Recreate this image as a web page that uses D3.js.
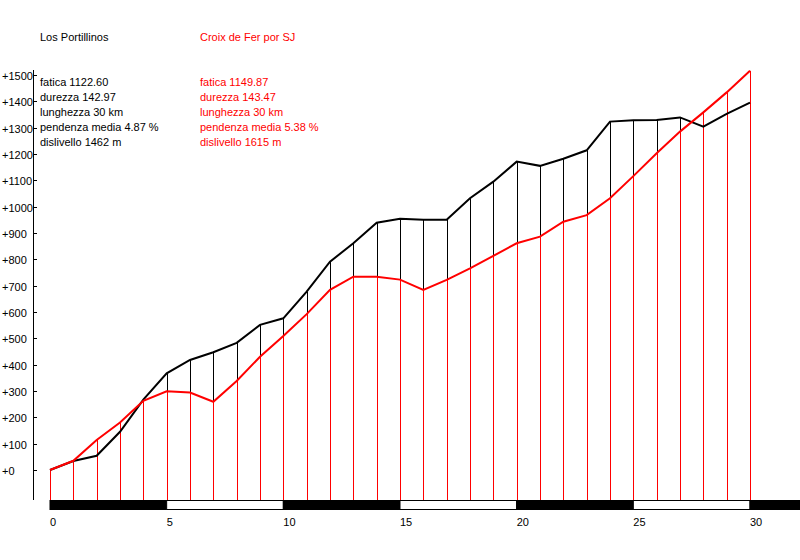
<!DOCTYPE html>
<html>
<head>
<meta charset="utf-8">
<script src="https://cdn.jsdelivr.net/npm/d3@7"></script>
<style>
  html, body { margin: 0; padding: 0; background: #fff; }
  svg { display: block; }
  text { font-family: "Liberation Sans", Arial, sans-serif; font-size: 11px; }
</style>
</head>
<body>
<svg id="chart" width="800" height="560"></svg>
<script>
// ---- data ----
const km = d3.range(0, 31);
const portillinos = [0, 34, 54, 145, 267, 367, 418, 447, 483, 551, 576, 677, 791, 861, 939, 954, 950, 950, 1032, 1095, 1171, 1155, 1182, 1214, 1323, 1328, 1329, 1339, 1304, 1352, 1395];
const croix = [0, 35, 114, 180, 263, 299, 294, 259, 338, 430, 509, 592, 684, 734, 734, 723, 684, 722, 766, 813, 861, 886, 943, 968, 1032, 1116, 1203, 1285, 1358, 1434, 1516];
const names = ["Los Portillinos", "Croix de Fer por SJ"];
const statsA = ["fatica 1122.60", "durezza 142.97", "lunghezza 30 km", "pendenza media 4.87 %", "dislivello 1462 m"];
const statsB = ["fatica 1149.87", "durezza 143.47", "lunghezza 30 km", "pendenza media 5.38 %", "dislivello 1615 m"];
const yTicks = d3.range(0, 1501, 100);
const xTicks = [0, 5, 10, 15, 20, 25, 30];
const barStarts = [0, 5, 10, 15, 20, 25, 30];

// ---- layout ----
const svg = d3.select("#chart");
const x = d3.scaleLinear().domain([0, 30]).range([50, 750]);
const y = d3.scaleLinear().domain([0, 1500]).range([470, 75]);
const baseY = 500;
const colors = ["#000000", "#ff0000"];

// titles
[0, 1].forEach(i => {
  svg.append("text").attr("x", i === 0 ? 40 : 200).attr("y", 41)
    .attr("fill", colors[i]).text(names[i]);
});
// stats
[statsA, statsB].forEach((arr, i) => {
  svg.selectAll(null).data(arr).enter().append("text")
    .attr("x", i === 0 ? 40 : 200)
    .attr("y", (d, j) => 85.5 + j * 15.2)
    .attr("fill", colors[i]).text(d => d);
});

// y axis
svg.append("line").attr("x1", 33.5).attr("x2", 33.5).attr("y1", 70).attr("y2", 500)
  .attr("stroke", "#000").attr("stroke-width", 1);
const yt = svg.selectAll(null).data(yTicks).enter().append("g");
yt.append("line")
  .attr("x1", 33).attr("x2", 37)
  .attr("y1", d => Math.round(y(d)) + 0.5).attr("y2", d => Math.round(y(d)) + 0.5)
  .attr("stroke", "#000");
yt.append("text").attr("x", 2).attr("y", d => y(d) + 5).text(d => "+" + d);

// vertical drop lines
function drops(vals, col) {
  svg.selectAll(null).data(km).enter().append("line")
    .attr("x1", d => Math.round(x(d)) + 0.5).attr("x2", d => Math.round(x(d)) + 0.5)
    .attr("y1", (d, i) => y(vals[i])).attr("y2", baseY)
    .attr("stroke", col).attr("stroke-width", 1);
}
drops(portillinos, colors[0]);
drops(croix, colors[1]);

// profile lines
const line = d3.line().x((d, i) => x(km[i])).y(d => y(d));
svg.append("path").datum(portillinos).attr("d", line)
  .attr("fill", "none").attr("stroke", colors[0]).attr("stroke-width", 2);
svg.append("path").datum(croix).attr("d", line)
  .attr("fill", "none").attr("stroke", colors[1]).attr("stroke-width", 2);

// distance bar
svg.selectAll(null).data(barStarts).enter().append("rect")
  .attr("x", d => x(d)).attr("y", 500.5)
  .attr("width", d => x(d + 5) - x(d)).attr("height", 9)
  .attr("fill", (d, i) => i % 2 === 0 ? "#000" : "#fff")
  .attr("stroke", "#000").attr("stroke-width", 1);

// x labels
svg.selectAll(null).data(xTicks).enter().append("text")
  .attr("x", d => x(d)).attr("y", 526).text(d => d);
</script>
</body>
</html>
